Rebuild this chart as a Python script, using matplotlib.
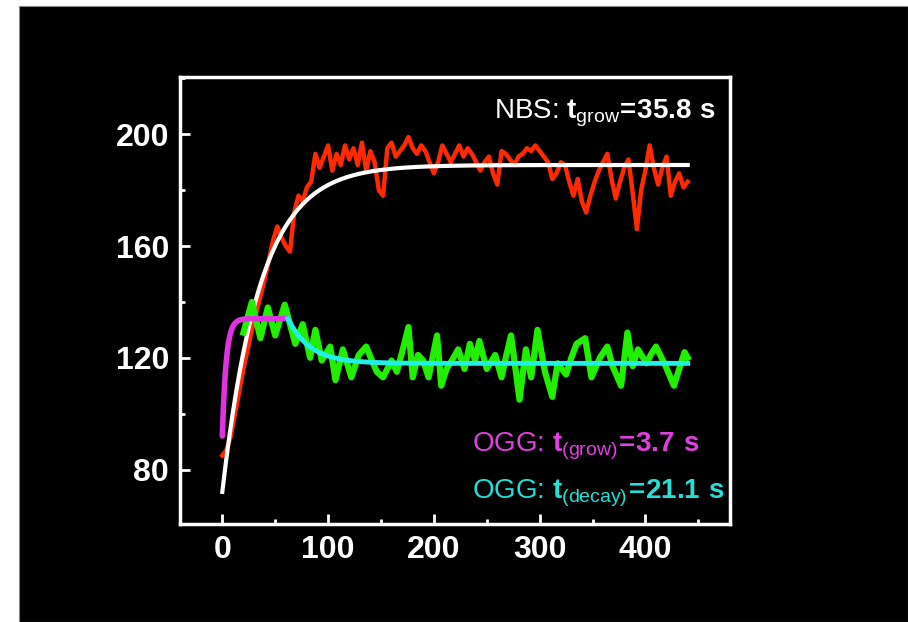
import matplotlib
matplotlib.use("Agg")
import numpy as np
from matplotlib import pyplot as plt
from matplotlib.patches import Rectangle
from matplotlib.ticker import MultipleLocator

# ---- data ----
nbs_x = [0, 4, 8, 12, 16, 20, 24, 28, 32, 36, 40, 44, 48, 52, 56, 60, 64, 68,
         72, 76, 80, 84, 88, 92, 96, 100, 104, 108, 112, 116, 120, 124, 128,
         132, 136, 140, 144, 148, 152, 156, 160, 164, 168, 172, 176, 180, 184,
         188, 192, 196, 200, 204, 208, 212, 216, 220, 224, 228, 232, 236, 240,
         244, 248, 252, 256, 260, 264, 268, 272, 276, 280, 284, 288, 292, 296,
         300, 304, 308, 312, 316, 320, 324, 328, 332, 336, 340, 344, 348, 352,
         356, 360, 364, 368, 372, 376, 380, 384, 388, 392, 396, 400, 404, 408,
         412, 416, 420, 424, 428, 432, 436, 440]
nbs_y = [85, 87, 92, 100, 108, 116, 123, 130, 136, 142, 148, 155, 162, 167,
         163, 160, 158, 172, 178, 176, 181, 183, 193, 188, 192, 196, 187, 193,
         189, 196, 191, 195, 189, 197, 187, 194, 190, 180, 178, 195, 197, 192,
         194, 196, 199, 195, 193, 196, 194, 190, 186, 190, 196, 193, 190, 193,
         196, 192, 195, 193, 190, 187, 190, 192, 186, 182, 194, 193, 191, 189,
         192, 193, 195, 194, 196, 194, 192, 190, 184, 186, 190, 189, 183, 178,
         184, 176, 172, 178, 183, 187, 190, 193, 184, 177, 183, 188, 191, 179,
         166, 180, 187, 196, 188, 182, 188, 192, 178, 183, 186, 181, 183]

ogg_x = [20, 28, 36, 43, 50, 59, 69, 76, 83, 88, 94, 102, 107, 114, 122, 129,
         136, 146, 152, 160, 165, 170, 176, 180, 185, 190, 195, 203, 207, 212,
         217, 223, 229, 234, 239, 243, 250, 258, 264, 268, 273, 281, 287, 292,
         298, 305, 312, 317, 325, 330, 335, 343, 349, 357, 364, 369, 377, 383,
         388, 393, 401, 405, 410, 418, 427, 437, 440]
ogg_y = [129, 140, 127, 138, 128, 139, 125, 132, 120, 130, 119, 124, 112,
         123, 113, 121, 124, 115, 113, 119, 115, 122, 131, 113, 121, 119, 113,
         128, 110, 116, 119, 123, 116, 125, 119, 126, 116, 121, 113, 120, 128,
         105, 123, 113, 130, 115, 106, 118, 114, 120, 125, 127, 113, 120, 124,
         117, 110, 129, 117, 123, 118, 121, 124, 118, 110, 122, 120]

# fitted curves (parameters from the labels)
nbs_tau = 35.8
nbs_y0, nbs_amp = 72, 189
ogg_tau_grow = 3.7
ogg_tau_decay = 21.1
ogg_start, ogg_peak, ogg_end = 92, 134, 118
ogg_switch = 62

plt.rcParams['font.family'] = ['Liberation Sans', 'DejaVu Sans']
plt.rcParams['mathtext.fontset'] = 'custom'
plt.rcParams['mathtext.rm'] = 'Liberation Sans'
plt.rcParams['mathtext.bf'] = 'Liberation Sans:bold'

fig = plt.figure(figsize=(9.08, 6.22), dpi=100, facecolor='white')
fig.patches.append(Rectangle((19/908, 0), 1 - 19/908, 1 - 6/622,
                             transform=fig.transFigure, facecolor='black',
                             edgecolor='#888888', lw=0.8, zorder=-10))
ax = fig.add_axes([180/908, 1 - 524/622, 550/908, 447/622])
ax.set_facecolor('black')

# NBS data + fit
ax.plot(nbs_x, nbs_y, color='#ff2a00', lw=3.2)
xf = np.linspace(0, 440, 400)
ax.plot(xf, nbs_amp - (nbs_amp - nbs_y0)*np.exp(-xf/nbs_tau),
        color='white', lw=3)

# OGG data + fits
ax.plot(ogg_x, ogg_y, color='#22ee00', lw=4.5)
xg = np.linspace(0, ogg_switch, 200)
ax.plot(xg, ogg_peak - (ogg_peak - ogg_start)*np.exp(-xg/ogg_tau_grow),
        color='#e033e0', lw=4, solid_capstyle='round')
xd = np.linspace(ogg_switch, 440, 300)
ax.plot(xd, ogg_end + (ogg_peak - ogg_end)*np.exp(-(xd - ogg_switch)/ogg_tau_decay),
        color='#22f0e8', lw=3.5)

ax.set_xlim(-40, 480)
ax.set_ylim(60.5, 220.5)
ax.xaxis.set_major_locator(MultipleLocator(100))
ax.xaxis.set_minor_locator(MultipleLocator(50))
ax.yaxis.set_major_locator(MultipleLocator(40))
ax.yaxis.set_minor_locator(MultipleLocator(20))
ax.set_xticks([0, 100, 200, 300, 400])
ax.set_yticks([80, 120, 160, 200])
ax.tick_params(which='both', direction='in', colors='white', width=2,
               top=False, right=False)
ax.tick_params(which='major', length=7, labelsize=23, pad=8)
ax.tick_params(which='minor', length=3.5)
for lab in ax.get_xticklabels() + ax.get_yticklabels():
    lab.set_fontweight('bold')
for sp in ax.spines.values():
    sp.set_color('white')
    sp.set_linewidth(2.5)

ax.text(0.975, 0.955, r"NBS: $\mathbf{t}_{\mathrm{grow}}\!\mathbf{=}\!\mathbf{35.8\ s}$",
        transform=ax.transAxes, color='white', fontsize=20,
        ha='right', va='top')
ax.text(0.53, 0.175, r"OGG: $\mathbf{t}_{\mathrm{(grow)}}\!\mathbf{=}\!\mathbf{3.7\ s}$",
        transform=ax.transAxes, color='#e040e0', fontsize=20,
        ha='left', va='center')
ax.text(0.53, 0.07, r"OGG: $\mathbf{t}_{\mathrm{(decay)}}\!\mathbf{=}\!\mathbf{21.1\ s}$",
        transform=ax.transAxes, color='#20e0d8', fontsize=20,
        ha='left', va='center')

fig.savefig('out.png', dpi=100, facecolor=fig.get_facecolor())
